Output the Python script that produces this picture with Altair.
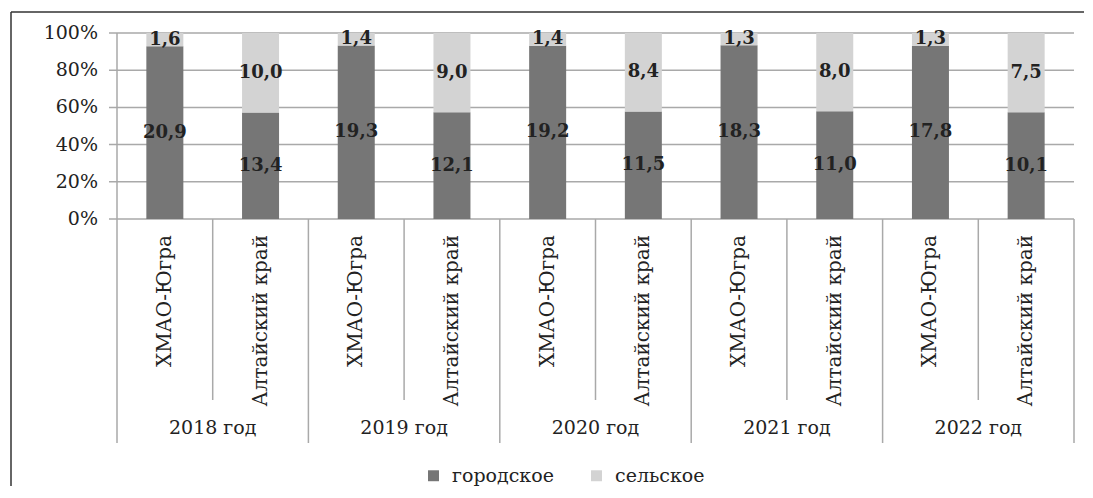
import altair as alt
import pandas as pd

years = ["2018 год", "2019 год", "2020 год", "2021 год", "2022 год"]
regions = ["ХМАО-Югра", "Алтайский край"]
series = ["городское", "сельское"]
urban_hmao = [20.9, 19.3, 19.2, 18.3, 17.8]
urban_alt = [13.4, 12.1, 11.5, 11.0, 10.1]
rural_hmao = [1.6, 1.4, 1.4, 1.3, 1.3]
rural_alt = [10.0, 9.0, 8.4, 8.0, 7.5]
y_ticks = [0, 0.2, 0.4, 0.6, 0.8, 1.0]
y_tick_labels = ["0%", "20%", "40%", "60%", "80%", "100%"]
colors = ["#767676", "#d3d3d3"]

FONT = "DejaVu Serif"
TXT = "#222222"
GRID = "#a9a9a9"

rows = []
cats = []
cat_rows = []
for i, yr in enumerate(years):
    for r, reg in enumerate(regions):
        cat = f"{yr}|{reg}"
        cats.append(cat)
        cat_rows.append(dict(cat=cat, year=yr, region=reg, ridx=r))
        u = (urban_hmao if r == 0 else urban_alt)[i]
        s = (rural_hmao if r == 0 else rural_alt)[i]
        for k, (name, v) in enumerate(zip(series, [u, s])):
            rows.append(dict(cat=cat, series=name, order=k, value=v,
                             label=f"{v:.1f}".replace(".", ",")))
df = pd.DataFrame(rows)
cdf = pd.DataFrame(cat_rows)
tdf = pd.DataFrame({"t": y_ticks, "lab": y_tick_labels})
one = pd.DataFrame({"a": [0]})

xscale = alt.Scale(type="band", domain=cats, range=[109, 1066], paddingInner=0, paddingOuter=0)
yscale = alt.Scale(domain=[0, 1], range=[211, 25], nice=False, zero=False)


def X(band=0.5):
    return alt.X("cat:N", scale=xscale, axis=None, bandPosition=band)


stacked = alt.Chart(df).transform_stack(
    stack="value", groupby=["cat"], as_=["v0", "v1"], offset="normalize",
    sort=[alt.SortField("order", order="ascending")]
).transform_calculate(mid="(datum.v0 + datum.v1) / 2")

grid = alt.Chart(tdf).mark_rule(color=GRID, strokeWidth=1.5).encode(
    y=alt.Y("t:Q", scale=yscale, axis=None), x=alt.value(101), x2=alt.value(1066))
ticklab = alt.Chart(tdf).mark_text(align="right", baseline="middle", font=FONT,
                                   fontSize=19, color=TXT).encode(
    y=alt.Y("t:Q", scale=yscale, axis=None), x=alt.value(90), text="lab:N")

bars = stacked.mark_bar(size=37).encode(
    x=X(),
    y=alt.Y("v0:Q", scale=yscale, axis=None),
    y2="v1:Q",
    color=alt.Color("series:N", scale=alt.Scale(domain=series, range=colors),
                    legend=alt.Legend(title=None, orient="none", legendX=416, legendY=458,
                                      direction="horizontal", symbolType="square",
                                      symbolSize=120, symbolStrokeWidth=0,
                                      labelFont=FONT, labelFontSize=19, labelColor=TXT,
                                      columnPadding=33, labelOffset=9, padding=0)),
)
vals = stacked.mark_text(font=FONT, fontSize=18, fontWeight="bold", color=TXT,
                         baseline="middle").encode(
    x=X(), y=alt.Y("mid:Q", scale=yscale, axis=None), text="label:N")

yaxis_line = alt.Chart(cdf).transform_filter("datum.cat == '" + cats[0] + "'").mark_rule(
    color=GRID, strokeWidth=1.5).encode(x=X(0), y=alt.value(25), y2=alt.value(211))
group_div = alt.Chart(cdf).transform_filter("datum.ridx == 0").mark_rule(
    color=GRID, strokeWidth=1.5).encode(x=X(0), y=alt.value(211), y2=alt.value(435))
end_div = alt.Chart(cdf).transform_filter("datum.cat == '" + cats[-1] + "'").mark_rule(
    color=GRID, strokeWidth=1.5).encode(x=X(1), y=alt.value(211), y2=alt.value(435))
inner_div = alt.Chart(cdf).transform_filter("datum.ridx == 1").mark_rule(
    color=GRID, strokeWidth=1.5).encode(x=X(0), y=alt.value(211), y2=alt.value(392))

region_lab = alt.Chart(cdf).mark_text(angle=270, align="right", baseline="middle",
                                      font=FONT, fontSize=20, color=TXT).encode(
    x=X(), y=alt.value(227), text="region:N")
year_lab = alt.Chart(cdf).transform_filter("datum.ridx == 1").mark_text(
    align="center", baseline="middle", font=FONT, fontSize=19, color=TXT).encode(
    x=X(0), y=alt.value(420), text="year:N")

frame_top = alt.Chart(one).mark_rule(color="#333333", strokeWidth=1.5).encode(
    x=alt.value(3), x2=alt.value(1076), y=alt.value(4), y2=alt.value(4))
frame_left = alt.Chart(one).mark_rule(color="#333333", strokeWidth=1.5).encode(
    x=alt.value(3), x2=alt.value(3), y=alt.value(4), y2=alt.value(478))

chart = alt.layer(
    frame_top, frame_left, grid, yaxis_line, group_div, end_div, inner_div,
    bars, vals, ticklab, region_lab, year_lab
).properties(
    width=1076, height=474,
    autosize=alt.AutoSizeParams(type="none"),
    padding={"left": 0, "top": 0, "right": 0, "bottom": 4},
).configure_view(strokeWidth=0, stroke="transparent", fill="white")

chart.save("out.html", embed_options={"renderer": "svg", "actions": False})
